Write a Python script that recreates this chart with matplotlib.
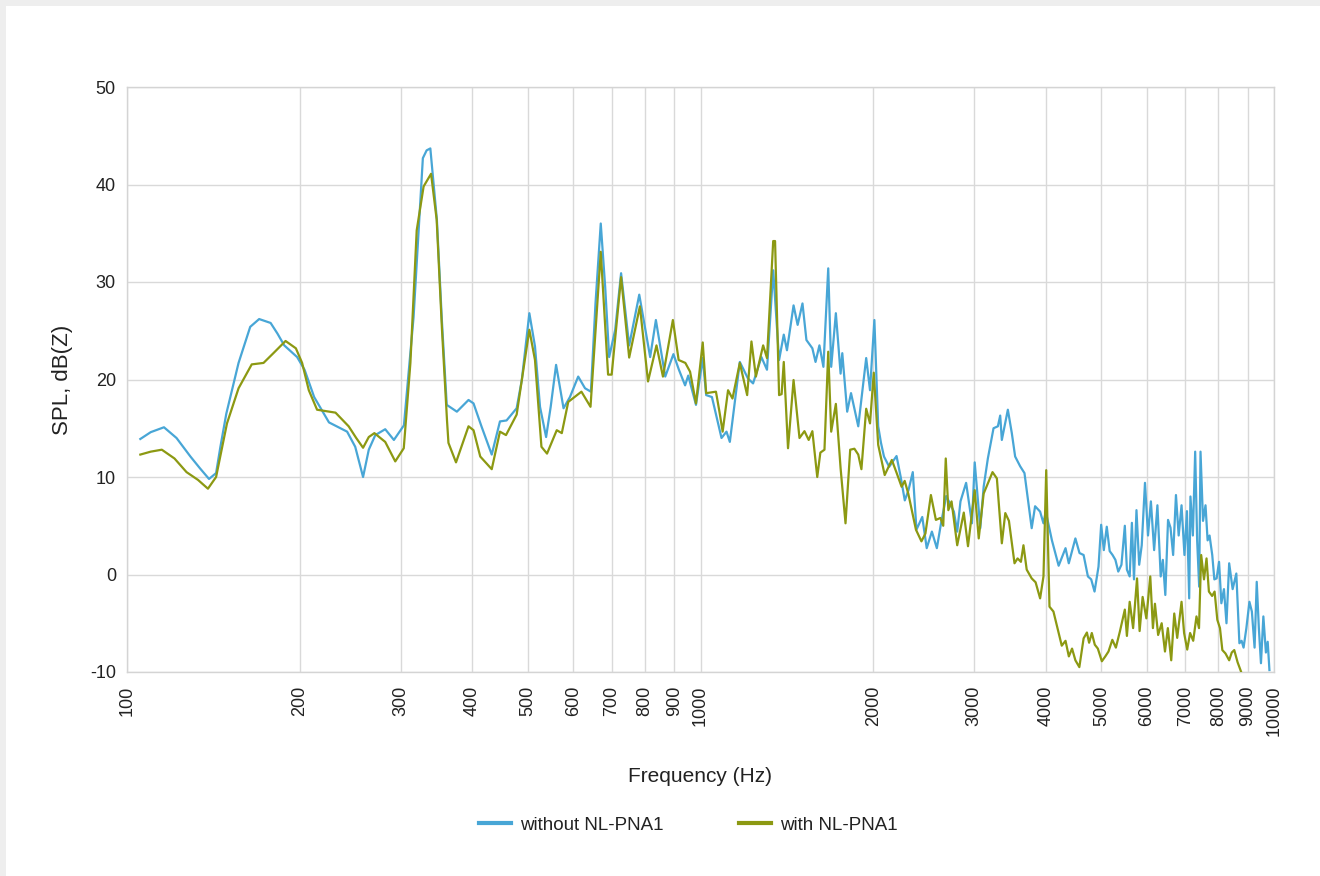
import matplotlib
matplotlib.use("Agg")
import matplotlib.pyplot as plt
from matplotlib.patches import Rectangle
from matplotlib.ticker import FixedLocator, NullLocator, FixedFormatter

plt.rcParams['font.family'] = ['Liberation Sans Narrow', 'Liberation Sans', 'DejaVu Sans']
plt.rcParams['axes.unicode_minus'] = False

# ---- data (frequency in Hz, SPL in dB(Z)) ----
freq_without = [105.5, 110, 116, 122, 129, 134, 139, 143, 145.5, 149, 156.5, 164, 170, 178, 183, 188, 198, 204,
                212, 225, 242, 250, 258, 264, 271, 282, 292, 304, 316, 328, 333, 338, 347, 354, 361,
                376, 394, 402, 415, 432.5, 447, 459, 478, 488, 503, 514.5, 525, 538, 548, 560, 577, 592,
                612, 629, 644, 656, 670, 682, 693, 710, 727, 751, 782, 817, 836, 868, 897, 917, 940, 952,
                982, 1009, 1023, 1047, 1088, 1110, 1125, 1171, 1210, 1235, 1277, 1306, 1339, 1371, 1397,
                1415, 1453, 1477, 1506, 1530, 1567, 1587, 1612, 1638, 1670, 1690, 1722, 1755, 1767, 1802,
                1830, 1884, 1945, 1975, 2010, 2041, 2064, 2089, 2133, 2197, 2234, 2271, 2305, 2345, 2380,
                2436, 2480, 2532, 2583, 2624, 2682, 2766, 2803, 2840, 2905, 2974, 3007, 3075, 3117, 3170,
                3243, 3300, 3331, 3353, 3435, 3490, 3537, 3609, 3672, 3780, 3832, 3910, 3963, 4000, 4100,
                4212, 4330, 4387, 4505, 4580, 4656, 4737, 4800, 4865, 4943, 4996, 5050, 5110, 5170, 5230,
                5290, 5351, 5420, 5494, 5540, 5602, 5652, 5700, 5757, 5820, 5880, 5957, 6030, 6100, 6180,
                6262, 6345, 6400, 6464, 6535, 6600, 6670, 6746, 6820, 6899, 6980, 7050, 7114, 7150, 7220,
                7287, 7345, 7405, 7445, 7520, 7596, 7660, 7720, 7804, 7870, 7942, 8020, 8095, 8180, 8263,
                8353, 8470, 8596, 8703, 8780, 8850, 8950, 9060, 9150, 9250, 9330, 9410, 9490, 9582, 9680,
                9750, 9818]
spl_without = [13.9, 14.6, 15.1, 14.0, 12.1, 10.9, 9.8, 10.4, 13.1, 16.5, 21.7, 25.4, 26.2, 25.8, 24.7, 23.5, 22.3, 21.0,
               18.2, 15.6, 14.65, 13.1, 10.0, 12.8, 14.3, 14.9, 13.8, 15.3, 26.4, 42.7, 43.5, 43.7, 36.4, 26.1, 17.4,
               16.7, 17.9, 17.55, 15.2, 12.3, 15.7, 15.8, 17.05, 19.95, 26.8, 23.4, 17.2, 14.1, 17.2, 21.5, 17.05, 18.2,
               20.3, 19.1, 18.75, 27.8, 36.0, 29.5, 22.3, 25.1, 30.9, 23.5, 28.7, 22.3, 26.1, 20.3, 22.6, 21.0, 19.4, 20.4,
               17.4, 22.2, 18.4, 18.2, 14.0, 14.65, 13.6, 21.8, 20.1, 19.6, 22.3, 21.0, 31.2, 22.0, 24.6,
               23.0, 27.6, 25.6, 27.8, 24.05, 23.2, 21.8, 23.5, 21.3, 31.4, 21.3, 26.8, 20.6, 22.7, 16.7,
               18.6, 15.2, 22.2, 18.9, 26.1, 15.2, 13.5, 12.1, 11.05, 12.15, 10.0, 7.6, 8.65, 10.5, 4.6,
               5.9, 2.7, 4.4, 2.7, 5.1, 8.05, 6.45, 4.4, 7.5, 9.4, 5.25, 11.5, 4.75, 9.0, 11.9,
               15.0, 15.2, 16.3, 13.8, 16.9, 14.5, 12.1, 11.1, 10.4, 4.75, 7.0, 6.45, 5.25, 6.45, 3.5,
               0.9, 2.7, 1.15, 3.7, 2.2, 2.0, -0.2, -0.5, -1.75, 0.8, 5.1, 2.5, 4.9, 2.4, 2.0,
               1.5, 0.3, 1.0, 5.0, 0.5, -0.2, 5.3, -0.5, 6.6, 1.0, 3.0, 9.4, 4.0, 7.5, 2.5,
               7.1, -0.2, 1.5, -2.1, 5.6, 4.8, 2.0, 8.15, 4.0, 7.1, 2.0, 6.5, -2.45, 8.0, 4.0,
               12.6, 3.5, -1.25, 12.6, 5.5, 7.1, 3.5, 4.0, 2.0, -0.5, -0.4, 1.3, -2.95, -1.5, -5.0,
               1.15, -1.5, 0.1, -7.05, -6.8, -7.5, -5.5, -2.8, -3.8, -7.5, -0.75, -5.5, -9.1, -4.3, -8.0,
               -6.9, -9.8]

freq_with = [105.5, 110, 115, 121, 127, 133, 138.4, 143, 149.4, 156.5, 165, 173, 180, 189, 197, 202, 207.5, 214.5,
             231, 243.5, 251, 258, 264, 270, 282, 293.6, 303.8, 312, 320, 329, 339, 346.7, 354.2, 361.4, 363.5,
             374.7, 394, 402, 413, 432.5, 447, 458, 478, 503, 514.5, 528, 540, 561.5, 573, 588, 620, 643,
             670, 690, 700, 727, 751, 784, 810, 838, 860, 895, 916, 941, 959, 982, 1009, 1023, 1064, 1079,
             1093, 1117, 1137, 1171, 1206, 1227, 1249, 1286, 1306, 1339, 1349, 1371, 1385, 1397, 1421, 1453,
             1488, 1518, 1544, 1567, 1598, 1618, 1645, 1670, 1690, 1722, 1755, 1790, 1824, 1855, 1884, 1908,
             1945, 1975, 2005, 2041, 2095, 2156, 2200, 2242, 2270, 2303, 2375, 2428, 2467, 2522, 2573, 2620,
             2650, 2677, 2705, 2740, 2803, 2878, 2927, 3007, 3056, 3117, 3230, 3287, 3353, 3400, 3450, 3528,
             3572, 3620, 3657, 3705, 3780, 3840, 3910, 3963, 4007, 4060, 4125, 4200, 4265, 4330, 4388, 4445,
             4505, 4577, 4656, 4718, 4760, 4812, 4870, 4930, 5010, 5080, 5145, 5225, 5300, 5386, 5494, 5540,
             5602, 5680, 5770, 5830, 5901, 5990, 6085, 6150, 6200, 6280, 6370, 6455, 6530, 6619, 6700, 6780,
             6899, 6970, 7058, 7140, 7230, 7325, 7400, 7465, 7550, 7627, 7700, 7800, 7878, 7965, 8050, 8127,
             8230, 8353, 8440, 8525, 8640, 8762, 8850, 9000]
spl_with = [12.3, 12.6, 12.8, 11.9, 10.5, 9.7, 8.8, 10.0, 15.5, 19.1, 21.55, 21.7, 22.7, 23.95, 23.2, 21.7, 18.9, 16.9,
            16.6, 15.2, 14.0, 13.0, 14.1, 14.5, 13.6, 11.6, 12.95, 21.7, 35.3, 39.8, 41.1, 36.4, 25.1, 15.8, 13.5,
            11.5, 15.2, 14.8, 12.1, 10.8, 14.65, 14.3, 16.4, 25.1, 22.0, 13.1, 12.4, 14.8, 14.5, 17.7, 18.75, 17.2,
            33.1, 20.5, 20.5, 30.5, 22.25, 27.5, 19.8, 23.5, 20.3, 26.1, 22.0, 21.7, 20.8, 17.55, 23.8, 18.6, 18.75, 16.7,
            14.65, 18.9, 18.05, 21.7, 18.4, 23.9, 20.3, 23.5, 22.2, 34.2, 34.2, 18.4, 18.5, 21.8, 12.95, 19.95,
            14.0, 14.7, 13.8, 14.7, 10.0, 12.5, 12.8, 22.85, 14.65, 17.5, 10.9, 5.25, 12.8, 12.9, 12.3, 10.8,
            17.0, 15.5, 20.7, 13.3, 10.2, 11.75, 10.35, 9.0, 9.6, 8.3, 4.6, 3.4, 4.2, 8.15, 5.6, 5.8,
            5.0, 11.9, 6.6, 7.5, 3.0, 6.35, 2.9, 8.65, 3.7, 8.3, 10.5, 9.85, 3.2, 6.3, 5.5, 1.15,
            1.65, 1.3, 3.0, 0.5, -0.4, -0.8, -2.45, -0.2, 10.7, -3.3, -3.8, -5.7, -7.3, -6.8, -8.4, -7.6,
            -8.8, -9.5, -6.55, -5.95, -7.0, -6.0, -7.2, -7.6, -8.9, -8.4, -7.9, -6.7, -7.5, -5.85, -3.6, -6.3,
            -2.8, -5.5, -0.4, -5.8, -2.3, -4.5, -0.2, -5.5, -3.0, -6.2, -5.0, -7.9, -5.5, -8.8, -4.0, -6.5,
            -2.8, -6.0, -7.7, -6.0, -6.8, -4.3, -5.5, 2.0, -0.5, 1.65, -1.75, -2.2, -1.75, -4.65, -5.5, -7.75,
            -8.1, -8.8, -8.0, -7.75, -9.0, -9.97, -11.0, -12.0]

x_ticks = [100, 200, 300, 400, 500, 600, 700, 800, 900, 1000, 2000, 3000, 4000, 5000, 6000, 7000, 8000, 9000, 10000]
x_tick_labels = [str(v) for v in x_ticks]
y_ticks = [-10, 0, 10, 20, 30, 40, 50]
series_labels = ["without NL-PNA1", "with NL-PNA1"]
colors = ["#48a6d6", "#8c9912"]

fig = plt.figure(figsize=(13.2, 8.76), dpi=100)
fig.patch.set_facecolor("#eeeeee")
fig.patches.append(Rectangle((6 / 1320, 0), 1 - 6 / 1320, 1 - 6 / 876, transform=fig.transFigure,
                             facecolor="white", edgecolor="none", zorder=-10))

ax = fig.add_axes([127 / 1320, 1 - 672 / 876, (1274 - 127) / 1320, (672 - 87) / 876])
ax.set_zorder(2)
ax.set_facecolor("white")
ax.set_xscale("log")
ax.set_xlim(100, 10000)
ax.set_ylim(-10, 50)

l1, = ax.plot(freq_without, spl_without, color=colors[0], lw=1.6, label=series_labels[0], zorder=3)
l2, = ax.plot(freq_with, spl_with, color=colors[1], lw=1.6, label=series_labels[1], zorder=4)

ax.xaxis.set_major_locator(FixedLocator(x_ticks))
ax.xaxis.set_major_formatter(FixedFormatter(x_tick_labels))
ax.xaxis.set_minor_locator(NullLocator())
ax.set_yticks(y_ticks)
ax.grid(True, color="#d9d9d9", lw=1.0)
ax.set_axisbelow(True)
for s in ax.spines.values():
    s.set_color("#d4d4d4")
    s.set_linewidth(1.0)
ax.tick_params(axis="both", length=0, labelsize=13, colors="#222222", pad=8)
ax.tick_params(axis="x", labelrotation=90, pad=10)

ax.set_xlabel("Frequency (Hz)", fontsize=15, color="#222222", labelpad=22)
ax.set_ylabel("SPL, dB(Z)", fontsize=16, color="#222222", labelpad=12)

leg = fig.legend(handles=[l1, l2], labels=series_labels, loc="center", bbox_to_anchor=(0.5216, 1 - 825 / 876),
                 ncol=2, frameon=False, fontsize=13.5, handlelength=1.7, handletextpad=0.5, columnspacing=4.0,
                 labelcolor="#222222")
leg.set_zorder(3)
for h in leg.legend_handles:
    h.set_linewidth(3)

fig.savefig("out.png", dpi=100, facecolor=fig.get_facecolor())
